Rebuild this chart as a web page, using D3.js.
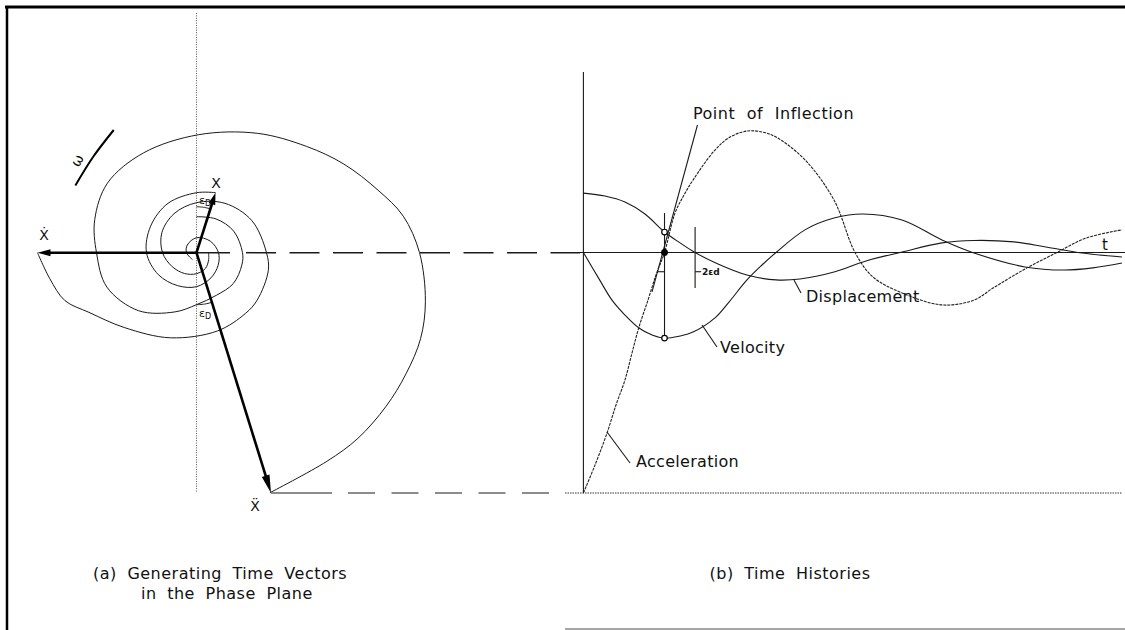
<!DOCTYPE html>
<html>
<head>
<meta charset="utf-8">
<script src="https://cdn.jsdelivr.net/npm/d3@7"></script>
<style>
  html, body { margin: 0; padding: 0; background: #fff; }
  svg { display: block; }
  text { font-family: "DejaVu Sans", "Liberation Sans", sans-serif; fill: #111; }
</style>
</head>
<body>
<svg id="fig" width="1125" height="630"></svg>
<script>
// ---------- (a) phase plane: vector tips, in phase-plane units (y up) ----------
const vecX     = [19, 60];        // displacement vector tip
const vecXdot  = [-159, 0];       // velocity vector tip
const vecXddot = [74.5, -240.3];  // acceleration vector tip

// Spiral traces traced by each tip: [angle in degrees (counter-clockwise), radius]
const spiralXddot = [[-73,251],[-58,246],[-49,246],[-39,244],[-30,242],[-21,240],[-12,234],[0,223],
  [10,210],[19,192],[31,172],[44,153],[63,134],[89,118],[118,113],[142,113],[162,107],[180,100],
  [201,96],[225,82],[250,63],[270,52],[295,47],[320,48],[345,47],[360,46],[390,43],[420,39],[450,36]];
const spiralXdot = [[180,159],[190,149],[200,140],[209,123],[226,104],[253,89],[285,81],[309,78],
  [322,77],[346,74],[360,70],[390,64],[420,57],[450,50],[480,45],[510,40],[540,34],[570,28],
  [600,24],[630,21],[660,18],[690,14],[720,12]];
const spiralX = [[72.4,63],[90,60],[120,57],[150,53],[180,50],[210,44],[240,38],[270,34],[300,29],
  [330,25],[360,22],[400,18],[450,15],[500,12],[540,10],[600,8]];

// Rotation arc for omega and the two phase-lead arcs
const omegaArc = [[124,148],[137,141],[151,138.5]];
const leadArcUpper = [[90,46],[81,46],[72.4,46]];
const leadArcLower = [[270,52],[279,52],[287.2,52]];

// ---------- (b) time histories: [t, value] ----------
const displacement = [[0,24.7],[0.401,23.5],[0.772,21.0],[1.144,16.0],[1.506,8.5],[1.794,4.0],
  [2.072,0],[2.499,-4.8],[3.037,-9.4],[3.576,-11.4],[4.022,-11.0],[4.653,-8.1],[5.247,-3.5],
  [5.916,0.2],[6.658,4.0],[7.252,5.0],[7.995,4.4],[8.589,2.3],[9.258,-0.2],[10,-1.9]];
const velocity = [[0,0],[0.301,-11.4],[0.531,-19.8],[0.772,-26.0],[1.032,-31.4],[1.274,-34.3],
  [1.506,-35.6],[1.794,-34.7],[2.035,-33.1],[2.443,-27.2],[2.703,-20.6],[3.037,-11.4],[3.316,-5.2],
  [3.576,0],[4.114,9.4],[4.653,14.3],[5.184,16.0],[5.916,13.5],[6.658,5.2],[7.252,-0.2],
  [8.199,-6.0],[8.923,-7.3],[9.462,-6.4],[10,-4.4]];
const acceleration = [[0,-100],[0.215,-88.4],[0.438,-75.1],[0.605,-63.4],[0.772,-53.0],[0.902,-41.8],
  [1.032,-31.0],[1.199,-19.8],[1.347,-9.4],[1.506,0],[1.701,16.4],[1.868,23.9],[2.035,30.1],
  [2.443,42.6],[2.722,48.0],[3.037,50.5],[3.316,50.1],[3.576,48.0],[4.114,38.5],[4.653,21.8],
  [5.043,0],[5.377,-10.2],[5.916,-16.8],[6.658,-21.8],[7.252,-19.8],[7.605,-14.8],[8.236,-6.4],
  [8.793,0],[9.332,6.0],[10,9.4]];
const inflectionTangent = [[2.118,53.0],[1.274,-16.4]];
const inflectionT = 1.506;
const inflectionMarks = [8.5, 0, -35.6];   // displacement, acceleration, velocity at inflection
const lagT = 2.074;

const svg = d3.select("#fig");
const ink = "#1a1a1a";

// ---------- frame ----------
svg.append("line").attr("x1", 5).attr("y1", 7).attr("x2", 1125).attr("y2", 7)
  .attr("stroke", "#000").attr("stroke-width", 3);
svg.append("line").attr("x1", 7).attr("y1", 6).attr("x2", 7).attr("y2", 630)
  .attr("stroke", "#000").attr("stroke-width", 2.5);
svg.append("line").attr("x1", 565).attr("y1", 629).attr("x2", 1125).attr("y2", 629)
  .attr("stroke", "#888").attr("stroke-width", 1.5);

// ---------- (a) phase plane ----------
const ppX = d3.scaleLinear().domain([-160, 240]).range([36.5, 436.5]);
const ppY = d3.scaleLinear().domain([-240, 120]).range([492.7, 132.7]);
const rad = d => d * Math.PI / 180;
const polar = p => [p[1] * Math.cos(rad(p[0])), p[1] * Math.sin(rad(p[0]))];
const ppLine = d3.line().x(d => ppX(d[0])).y(d => ppY(d[1])).curve(d3.curveCatmullRom.alpha(0.5));

const a = svg.append("g");

// reference axes
a.append("line").attr("x1", ppX(0)).attr("x2", ppX(0)).attr("y1", ppY(239.7)).attr("y2", ppY(-240.3))
  .attr("stroke", "#444").attr("stroke-width", 0.9).attr("stroke-dasharray", "1,1.4");
a.append("line").attr("x1", ppX(0)).attr("x2", ppX(33.5)).attr("y1", ppY(0)).attr("y2", ppY(0))
  .attr("stroke", ink).attr("stroke-width", 1.6);
a.append("line").attr("x1", ppX(49.5)).attr("x2", ppX(383.5)).attr("y1", ppY(0)).attr("y2", ppY(0))
  .attr("stroke", ink).attr("stroke-width", 1.5).attr("stroke-dasharray", "30,13.5");
a.append("line").attr("x1", ppX(vecXddot[0])).attr("x2", ppX(135.5)).attr("y1", ppY(vecXddot[1])).attr("y2", ppY(vecXddot[1]))
  .attr("stroke", ink).attr("stroke-width", 1.1);
a.append("line").attr("x1", ppX(151.5)).attr("x2", ppX(358.5)).attr("y1", ppY(vecXddot[1])).attr("y2", ppY(vecXddot[1]))
  .attr("stroke", ink).attr("stroke-width", 1.1).attr("stroke-dasharray", "27,16.5");

// spirals
[spiralXddot, spiralXdot, spiralX].forEach(s => {
  a.append("path").attr("d", ppLine(s.map(polar)))
    .attr("fill", "none").attr("stroke", ink).attr("stroke-width", 1);
});

// phase-lead arcs
[leadArcUpper, leadArcLower].forEach(s => {
  a.append("path").attr("d", ppLine(s.map(polar)))
    .attr("fill", "none").attr("stroke", ink).attr("stroke-width", 1);
});

// omega arc
a.append("path").attr("d", ppLine(omegaArc.map(polar)))
  .attr("fill", "none").attr("stroke", "#000").attr("stroke-width", 2);

// vectors
function vector(tip, width, headLen, headW) {
  const x0 = ppX(0), y0 = ppY(0), x1 = ppX(tip[0]), y1 = ppY(tip[1]);
  const dx = x1 - x0, dy = y1 - y0, L = Math.hypot(dx, dy), ux = dx / L, uy = dy / L;
  const bx = x1 - ux * headLen, by = y1 - uy * headLen;
  a.append("line").attr("x1", x0).attr("y1", y0).attr("x2", bx + ux * 2).attr("y2", by + uy * 2)
    .attr("stroke", "#000").attr("stroke-width", width);
  a.append("path")
    .attr("d", `M${x1},${y1}L${bx - uy * headW / 2},${by + ux * headW / 2}L${bx + uy * headW / 2},${by - ux * headW / 2}Z`)
    .attr("fill", "#000");
}
vector(vecX, 2.6, 12, 7);
vector(vecXdot, 2.6, 13, 7);
vector(vecXddot, 2.6, 18, 8);

// labels
a.append("text").attr("x", 216).attr("y", 188).attr("text-anchor", "middle").attr("font-size", 14).text("X");
a.append("text").attr("x", 44).attr("y", 240).attr("text-anchor", "middle").attr("font-size", 14).text("Ẋ");
a.append("text").attr("x", 255).attr("y", 511).attr("text-anchor", "middle").attr("font-size", 14).text("Ẍ");
a.append("text").attr("x", 78).attr("y", 161).attr("text-anchor", "middle").attr("dominant-baseline", "middle")
  .attr("font-size", 14).attr("transform", "rotate(-60,78,161)").text("ω");
function lead(x, y) {
  const t = a.append("text").attr("x", x).attr("y", y).attr("font-size", 11);
  t.append("tspan").text("ε");
  t.append("tspan").attr("font-size", 8).attr("dy", 2).text("D");
}
lead(199, 204);
lead(199, 317);

const capStyle = sel => sel.attr("font-size", 16).attr("letter-spacing", 0.5).attr("word-spacing", 5);
capStyle(a.append("text").attr("x", 93).attr("y", 579)).text("(a) Generating Time Vectors");
capStyle(a.append("text").attr("x", 141).attr("y", 599)).text("in the Phase Plane");

// ---------- (b) time histories ----------
const tX = d3.scaleLinear().domain([0, 10]).range([583.4, 1122]);
const tY = d3.scaleLinear().domain([-100, 75]).range([493, 72.1]);
const tLine = d3.line().x(d => tX(d[0])).y(d => tY(d[1])).curve(d3.curveCatmullRom.alpha(0.5));

const b = svg.append("g");

// axes
b.append("line").attr("x1", tX(0)).attr("x2", tX(0)).attr("y1", tY(75)).attr("y2", tY(-100))
  .attr("stroke", ink).attr("stroke-width", 1.1);
b.append("line").attr("x1", 575).attr("x2", 1125).attr("y1", tY(0)).attr("y2", tY(0))
  .attr("stroke", ink).attr("stroke-width", 1.2);
b.append("line").attr("x1", 565).attr("x2", tX(10)).attr("y1", tY(-100)).attr("y2", tY(-100))
  .attr("stroke", "#333").attr("stroke-width", 1).attr("stroke-dasharray", "1.5,1");
b.append("text").attr("x", 1102).attr("y", 250).attr("font-size", 15).text("t");

// response curves
b.append("path").attr("d", tLine(displacement)).attr("fill", "none").attr("stroke", ink).attr("stroke-width", 1.1);
b.append("path").attr("d", tLine(velocity)).attr("fill", "none").attr("stroke", ink).attr("stroke-width", 1.1);
b.append("path").attr("d", tLine(acceleration)).attr("fill", "none").attr("stroke", "#222")
  .attr("stroke-width", 1.1).attr("stroke-dasharray", "3,1");

// inflection construction
b.append("path").attr("d", d3.line()(inflectionTangent.map(d => [tX(d[0]), tY(d[1])])))
  .attr("stroke", ink).attr("stroke-width", 1.1);
b.append("line").attr("x1", tX(inflectionT)).attr("x2", tX(inflectionT)).attr("y1", tY(16.4)).attr("y2", tY(-35.6))
  .attr("stroke", ink).attr("stroke-width", 1.1);
b.append("line").attr("x1", tX(lagT)).attr("x2", tX(lagT)).attr("y1", tY(10.6)).attr("y2", tY(-14.8))
  .attr("stroke", ink).attr("stroke-width", 1.1);
b.append("line").attr("x1", tX(inflectionT) - 7).attr("x2", tX(inflectionT)).attr("y1", tY(-8)).attr("y2", tY(-8))
  .attr("stroke", ink).attr("stroke-width", 1.1);
b.append("line").attr("x1", tX(lagT)).attr("x2", tX(lagT) + 6).attr("y1", tY(-8)).attr("y2", tY(-8))
  .attr("stroke", ink).attr("stroke-width", 1.1);
b.append("text").attr("x", tX(lagT) + 7).attr("y", tY(-8) + 3.5).attr("font-size", 9).attr("font-weight", "bold").text("2εd");
inflectionMarks.forEach((v, i) => {
  b.append("circle").attr("cx", tX(inflectionT)).attr("cy", tY(v)).attr("r", 2.8)
    .attr("fill", i === 1 ? "#000" : "#fff").attr("stroke", "#000").attr("stroke-width", 1.2);
});

// curve labels with leaders
function leader(x1, y1, x2, y2) {
  b.append("line").attr("x1", x1).attr("y1", y1).attr("x2", x2).attr("y2", y2).attr("stroke", ink).attr("stroke-width", 1.1);
}
leader(794, 280, 801, 293);
leader(702, 325, 717, 347);
leader(607, 432, 630, 463);
const lblStyle = sel => sel.attr("font-size", 16).attr("letter-spacing", 0.3);
capStyle(b.append("text").attr("x", 693).attr("y", 119)).attr("word-spacing", 6).text("Point of Inflection");
lblStyle(b.append("text").attr("x", 806).attr("y", 302)).text("Displacement");
lblStyle(b.append("text").attr("x", 720).attr("y", 353)).text("Velocity");
lblStyle(b.append("text").attr("x", 636).attr("y", 467)).text("Acceleration");
capStyle(b.append("text").attr("x", 709.5).attr("y", 579)).text("(b) Time Histories");
</script>
</body>
</html>
